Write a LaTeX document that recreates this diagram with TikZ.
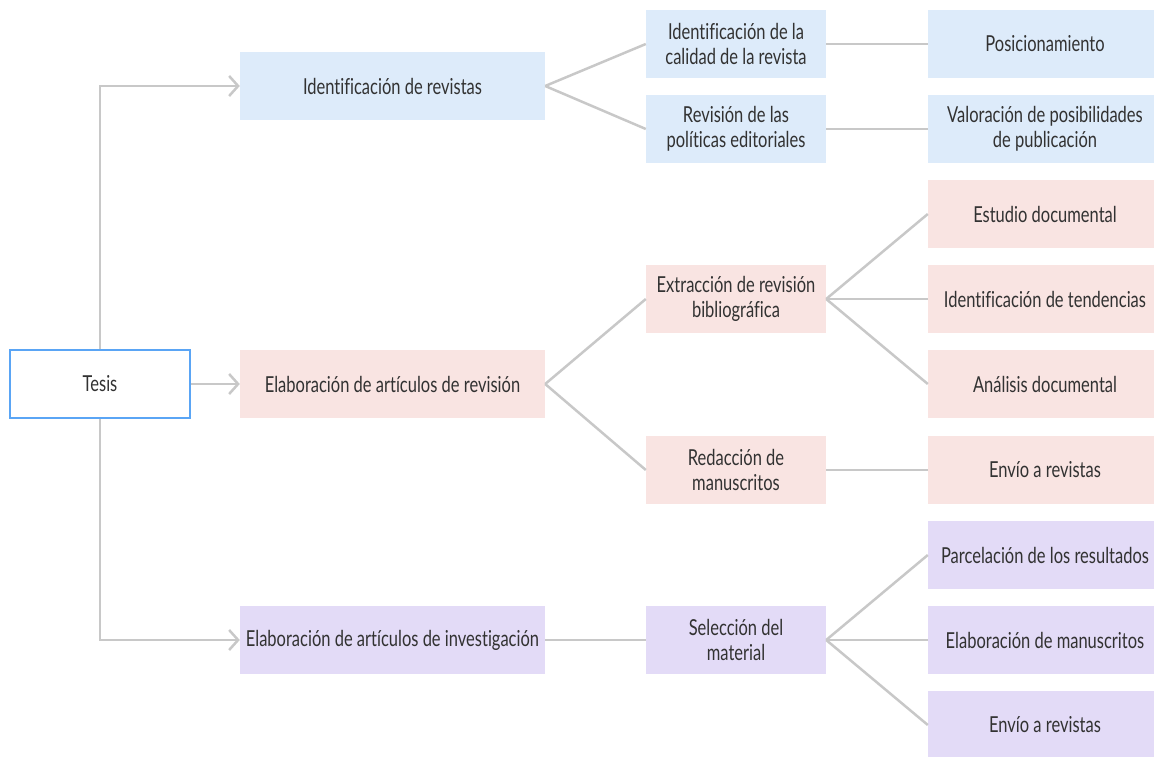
\documentclass[tikz,border=0pt]{standalone}
\usepackage{fontspec}
\setmainfont[FakeStretch=0.75,Ligatures={NoCommon}]{Lato}
\usetikzlibrary{arrows.meta}
\definecolor{txt}{RGB}{50,50,50}
\definecolor{bluefill}{RGB}{221,235,250}
\definecolor{pinkfill}{RGB}{249,228,226}
\definecolor{lavfill}{RGB}{227,219,247}
\definecolor{tesisborder}{RGB}{90,165,245}
\definecolor{linegray}{RGB}{200,200,200}
\begin{document}
\begin{tikzpicture}[x=1pt,y=-1pt,
  box/.style={rectangle, inner sep=0pt, minimum height=68pt, align=center, text=txt,
    font=\fontsize{22}{25}\selectfont},
  lvlone/.style={box, minimum width=305pt},
  lvltwo/.style={box, minimum width=180pt},
  lvlthree/.style={box, minimum width=234pt},
  blue/.style={fill=bluefill},
  pink/.style={fill=pinkfill},
  lav/.style={fill=lavfill},
  conn/.style={draw=linegray, line width=2.5pt},
  arr/.style={conn, -{Straight Barb[length=9pt,width=20pt,line width=2.5pt]}}
]
\useasboundingbox (0,0) rectangle (1154,757);
\clip (0,0) rectangle (1154,757);
% root
\node[box, minimum width=180pt, draw=tesisborder, line width=2.5pt, fill=white] (tesis) at (100,384) {Tesis};
% level 1
\node[lvlone, blue] (idrev) at (392.5,86) {Identificación de revistas};
\node[lvlone, pink] (elabrev) at (392.5,384) {Elaboración de artículos de revisión};
\node[lvlone, lav] (elabinv) at (392.5,640) {Elaboración de artículos de investigación};
% level 2
\node[lvltwo, blue] (calidad) at (736,44) {Identificación de la\\calidad de la revista};
\node[lvltwo, blue] (politicas) at (736,129) {Revisión de las\\políticas editoriales};
\node[lvltwo, pink] (extraccion) at (736,299) {Extracción de revisión\\bibliográfica};
\node[lvltwo, pink] (redaccion) at (736,470) {Redacción de\\manuscritos};
\node[lvltwo, lav] (seleccion) at (736,640) {Selección del\\material};
% level 3
\node[lvlthree, blue] (posic) at (1045,44) {Posicionamiento};
\node[lvlthree, blue] (valor) at (1045,129) {Valoración de posibilidades\\de publicación};
\node[lvlthree, pink] (estudio) at (1045,214) {Estudio documental};
\node[lvlthree, pink] (tendencias) at (1045,299) {Identificación de tendencias};
\node[lvlthree, pink] (analisis) at (1045,384) {Análisis documental};
\node[lvlthree, pink] (envio1) at (1045,470) {Envío a revistas};
\node[lvlthree, lav] (parcel) at (1045,555) {Parcelación de los resultados};
\node[lvlthree, lav] (elabman) at (1045,640) {Elaboración de manuscritos};
\node[lvlthree, lav] (envio2) at (1045,725) {Envío a revistas};
% root connectors
\draw[arr] (tesis.north) |- (idrev.west);
\draw[arr] (tesis.east) -- (elabrev.west);
\draw[arr] (tesis.south) |- (elabinv.west);
% level 1 -> 2
\draw[conn] (idrev.east) -- (calidad.west);
\draw[conn] (idrev.east) -- (politicas.west);
\draw[conn] (elabrev.east) -- (extraccion.west);
\draw[conn] (elabrev.east) -- (redaccion.west);
\draw[conn] (elabinv.east) -- (seleccion.west);
% level 2 -> 3
\draw[conn] (calidad.east) -- (posic.west);
\draw[conn] (politicas.east) -- (valor.west);
\draw[conn] (extraccion.east) -- (estudio.west);
\draw[conn] (extraccion.east) -- (tendencias.west);
\draw[conn] (extraccion.east) -- (analisis.west);
\draw[conn] (redaccion.east) -- (envio1.west);
\draw[conn] (seleccion.east) -- (parcel.west);
\draw[conn] (seleccion.east) -- (elabman.west);
\draw[conn] (seleccion.east) -- (envio2.west);
\end{tikzpicture}
\end{document}
